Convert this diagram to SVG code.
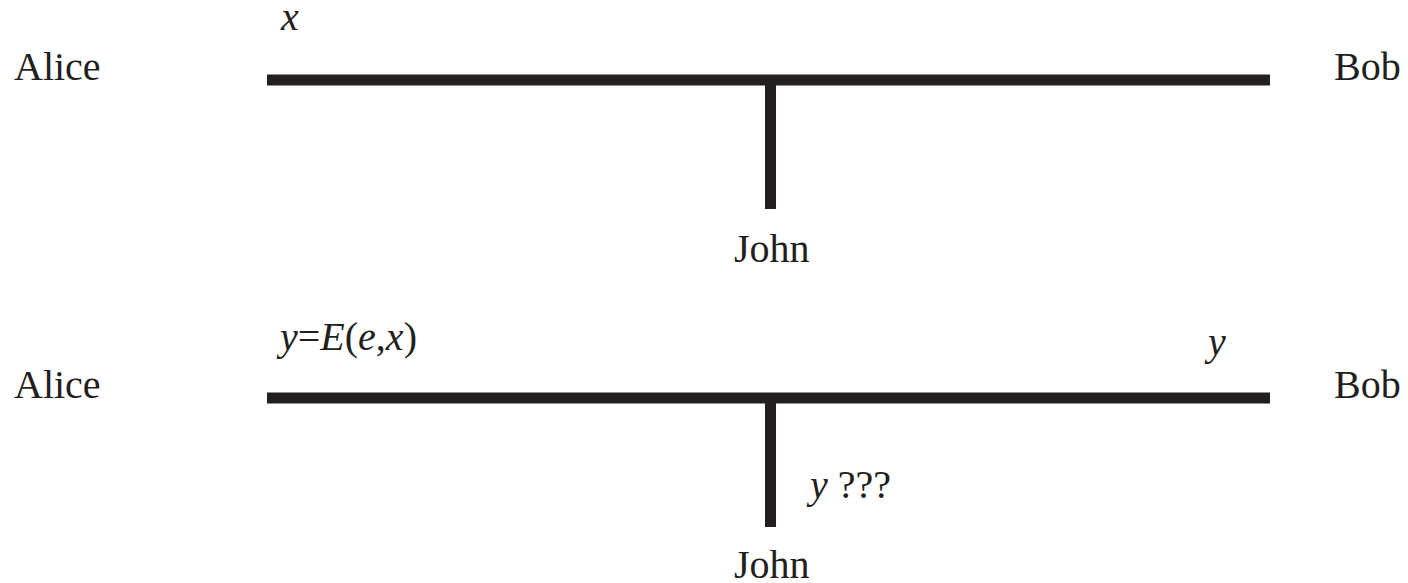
<svg xmlns="http://www.w3.org/2000/svg" width="1408" height="583" viewBox="0 0 1408 583">
  <style>
    .wire { stroke: #231f20; stroke-width: 11; fill: none; }
    .lbl { font-size: 40px; fill: #231f20; }
    .it { font-style: italic; }
  </style>
  <rect width="1408" height="583" fill="#ffffff"/>

  <!-- Scenario 1: plaintext on the channel -->
  <g id="alice-1"><text class="lbl" font-family="Liberation Serif" x="14" y="80">Alice</text></g>
  <g id="bob-1"><text class="lbl" font-family="Liberation Serif" x="1334" y="80">Bob</text></g>
  <g id="john-1"><text class="lbl" font-family="Liberation Serif" x="734" y="262">John</text></g>
  <g id="msg-1"><text class="lbl it" font-family="Liberation Serif" x="281" y="30">x</text></g>

  <!-- Scenario 2: ciphertext on the channel -->
  <g id="alice-2"><text class="lbl" font-family="Liberation Serif" x="14" y="398">Alice</text></g>
  <g id="bob-2"><text class="lbl" font-family="Liberation Serif" x="1334" y="398">Bob</text></g>
  <g id="john-2"><text class="lbl" font-family="Liberation Serif" x="734" y="578">John</text></g>
  <g id="msg-2">
    <text class="lbl" font-family="Liberation Serif" font-size="42" x="280" y="350"><tspan class="it">y</tspan>=<tspan class="it">E</tspan>(<tspan class="it">e</tspan>,<tspan class="it">x</tspan>)</text>
  </g>
  <g id="msg-bob"><text class="lbl it" font-family="Liberation Serif" x="1208" y="355">y</text></g>
  <g id="msg-john"><text class="lbl" font-family="Liberation Serif" x="810" y="498"><tspan class="it">y</tspan> ???</text></g>

  <!-- channels with the tap -->
  <g id="connectors">
    <line class="wire" x1="267" y1="80" x2="1270" y2="80"/>
    <line class="wire" x1="770.5" y1="80" x2="770.5" y2="209"/>
    <line class="wire" x1="267" y1="398" x2="1270" y2="398"/>
    <line class="wire" x1="770.5" y1="398" x2="770.5" y2="527"/>
  </g>
</svg>
